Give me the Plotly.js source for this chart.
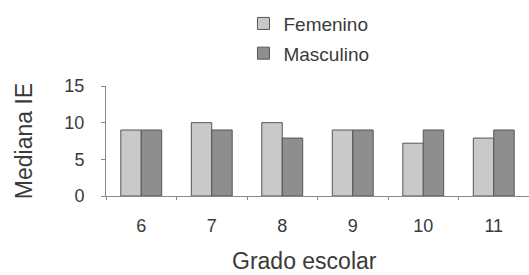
<!DOCTYPE html>
<html>
<head>
<meta charset="utf-8">
<script src="https://cdn.plot.ly/plotly-3.0.1.min.js"></script>
<style>html,body{margin:0;padding:0;background:#fff;}#chart{width:529px;height:275px;}</style>
</head>
<body>
<div id="chart"></div>
<script>
var grados = ["6", "7", "8", "9", "10", "11"];
var femenino = [9, 10, 10, 9, 7.2, 7.9];
var masculino = [9, 9, 7.9, 9, 9, 9];
var seriesNames = ["Femenino", "Masculino"];
var xTitle = "Grado escolar";
var yTitle = "Mediana IE";

var lineColor = "#555555";
var data = [
  {type: "bar", x: grados, y: femenino, name: seriesNames[0], legendgroup: "f",
   marker: {color: "#c9c9c9", line: {color: lineColor, width: 1}}},
  {type: "bar", x: grados, y: masculino, name: seriesNames[1], legendgroup: "m",
   marker: {color: "#8e8e8e", line: {color: lineColor, width: 1}}}
];
var layout = {
  width: 529, height: 275,
  margin: {l: 106, r: 0, t: 86, b: 79},
  paper_bgcolor: "#fff", plot_bgcolor: "#fff",
  font: {family: "Liberation Sans, Arial, sans-serif", color: "#3a3a3a", size: 18},
  barmode: "group", bargap: 0.42, bargroupgap: 0,
  showlegend: true,
  legend: {x: 0.325, xanchor: "left", y: 1.74, yanchor: "top", orientation: "v",
           font: {size: 19}, tracegroupgap: 2, bgcolor: "rgba(0,0,0,0)", itemwidth: 30},
  xaxis: {type: "category", tickson: "boundaries", ticks: "outside", ticklen: 3,
          tickcolor: "#888", showline: true, linecolor: "#888", linewidth: 1,
          showgrid: false, zeroline: false, tickfont: {size: 18}, ticklabelstandoff: 13,
          automargin: false},
  yaxis: {range: [0, 15], dtick: 5, tick0: 0, ticks: "outside", ticklen: 4,
          tickcolor: "#888", showline: true, linecolor: "#888", linewidth: 1,
          showgrid: false, zeroline: false, tickfont: {size: 18}, ticklabelstandoff: 13,
          automargin: false,
          title: {text: yTitle, font: {size: 23}, standoff: 25}},
  annotations: [
    {text: xTitle, xref: "paper", yref: "paper", x: 0.47, xanchor: "center",
     y: -0.455, yanchor: "top", showarrow: false, font: {size: 23, color: "#3a3a3a"}}
  ]
};
Plotly.newPlot("chart", data, layout, {staticPlot: true, displayModeBar: false});
</script>
</body>
</html>
